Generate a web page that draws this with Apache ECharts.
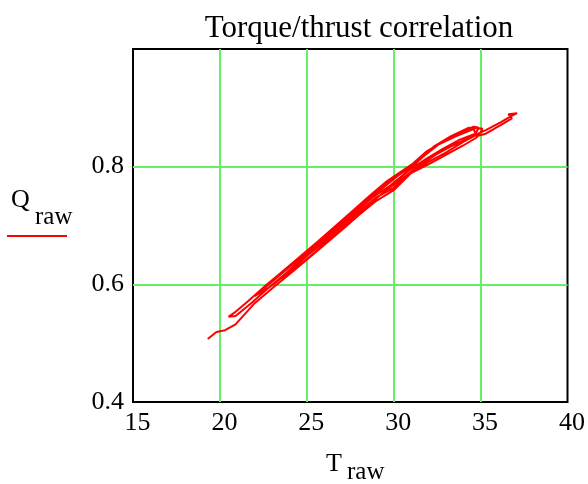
<!DOCTYPE html>
<html>
<head>
<meta charset="utf-8">
<script src="https://cdn.jsdelivr.net/npm/echarts@6/dist/echarts.min.js"></script>
<style>html,body{margin:0;padding:0;background:#fff}#c{width:588px;height:484px}</style>
</head>
<body>
<div id="c"></div>
<script>
const titleText = 'Torque/thrust correlation';
const xTicks = [15, 20, 25, 30, 35, 40];
const yTicks = [0.4, 0.6, 0.8, 1.0];
const T_raw = [
 19.3,19.8,20.3,20.9,22.0,23.0,24.0,25.0,26.0,27.0,28.0,29.0,30.0,31.0,32.0,33.0,34.0,34.8,
 34.6,33.6,32.6,31.6,30.6,29.6,28.6,27.6,26.6,25.6,24.6,23.6,22.6,21.6,20.8,20.5,
 20.9,21.8,22.8,23.8,24.8,25.8,26.8,27.8,28.8,29.8,30.8,31.8,32.8,33.8,34.7,34.9,34.6,
 33.9,32.9,31.9,30.9,29.9,28.9,27.9,26.9,25.9,24.9,23.9,22.9,22.0,
 23.0,24.0,25.0,26.0,27.0,28.0,29.0,30.0,31.0,32.0,33.0,34.0,35.0,35.1,
 34.3,33.3,32.3,31.3,30.3,29.3,28.3,27.3,26.3,25.3,24.3,23.3,
 24.4,25.4,26.4,27.4,28.4,29.4,30.4,31.4,32.4,33.4,34.4,35.3,36.2,36.7,37.1,36.6,36.8,36.3,35.3,34.8
];
const Q_raw = [
 0.507,0.519,0.522,0.532,0.568,0.593,0.617,0.642,0.667,0.692,0.718,0.742,0.760,0.789,0.804,0.820,0.836,0.850,
 0.864,0.852,0.838,0.815,0.795,0.775,0.750,0.724,0.698,0.672,0.647,0.622,0.597,0.571,0.551,0.545,
 0.546,0.568,0.594,0.619,0.646,0.671,0.694,0.722,0.748,0.768,0.792,0.812,0.830,0.846,0.856,0.866,0.868,
 0.858,0.844,0.826,0.800,0.778,0.754,0.730,0.703,0.678,0.652,0.627,0.602,0.580,
 0.598,0.622,0.648,0.672,0.698,0.723,0.748,0.764,0.790,0.808,0.824,0.842,0.858,0.865,
 0.866,0.852,0.834,0.806,0.786,0.762,0.737,0.710,0.684,0.658,0.632,0.606,
 0.628,0.653,0.678,0.705,0.731,0.756,0.778,0.800,0.820,0.836,0.850,0.862,0.876,0.885,0.891,0.889,0.882,0.873,0.856,0.852
];

const data = T_raw.map((t, i) => [t, Q_raw[i]]);
const serif = '"Liberation Serif","Times New Roman",serif';
const gridColor = '#66ee66';

const chart = echarts.init(document.getElementById('c'), null, {renderer: 'canvas'});
chart.setOption({
  animation: false,
  backgroundColor: '#fff',
  title: {
    text: titleText, left: 354, top: 8, textAlign: 'center',
    textStyle: {fontFamily: serif, fontSize: 31, fontWeight: 'normal', color: '#000'}
  },
  grid: {left: 133, right: 19, top: 49, bottom: 82, show: true, borderColor: '#000', borderWidth: 2, backgroundColor: 'transparent'},
  xAxis: {
    type: 'value', min: xTicks[0], max: xTicks[xTicks.length - 1], interval: 5,
    axisLine: {show: false}, axisTick: {show: false},
    axisLabel: {fontFamily: serif, fontSize: 26, color: '#000', margin: 8, padding: [0, 0, 0, 9]},
    splitLine: {show: true, showMinLine: false, showMaxLine: false, lineStyle: {color: gridColor, width: 2}}
  },
  yAxis: {
    type: 'value', min: yTicks[0], max: yTicks[yTicks.length - 1], interval: 0.2,
    axisLine: {show: false}, axisTick: {show: false},
    axisLabel: {fontFamily: serif, fontSize: 26, color: '#000', margin: 9, padding: [10, 0, 0, 0],
      formatter: v => (Math.abs(v - 1.0) < 1e-9 ? '' : v.toFixed(1))},
    splitLine: {show: true, showMinLine: false, showMaxLine: false, lineStyle: {color: gridColor, width: 2}}
  },
  series: [{
    type: 'line', data: data, showSymbol: false, symbol: 'none',
    lineStyle: {color: '#ff0000', width: 2}, z: 3
  }],
  graphic: [
    {type: 'text', left: 326, top: 451, style: {text: 'T', font: '26px ' + serif, fill: '#000'}},
    {type: 'text', left: 347, top: 460, style: {text: 'raw', font: '25px ' + serif, fill: '#000'}},
    {type: 'text', left: 11, top: 187, style: {text: 'Q', font: '26px ' + serif, fill: '#000'}},
    {type: 'text', left: 35, top: 205, style: {text: 'raw', font: '25px ' + serif, fill: '#000'}},
    {type: 'line', shape: {x1: 7, y1: 236, x2: 67, y2: 236}, style: {stroke: '#ff0000', lineWidth: 2}}
  ]
});
</script>
</body>
</html>
